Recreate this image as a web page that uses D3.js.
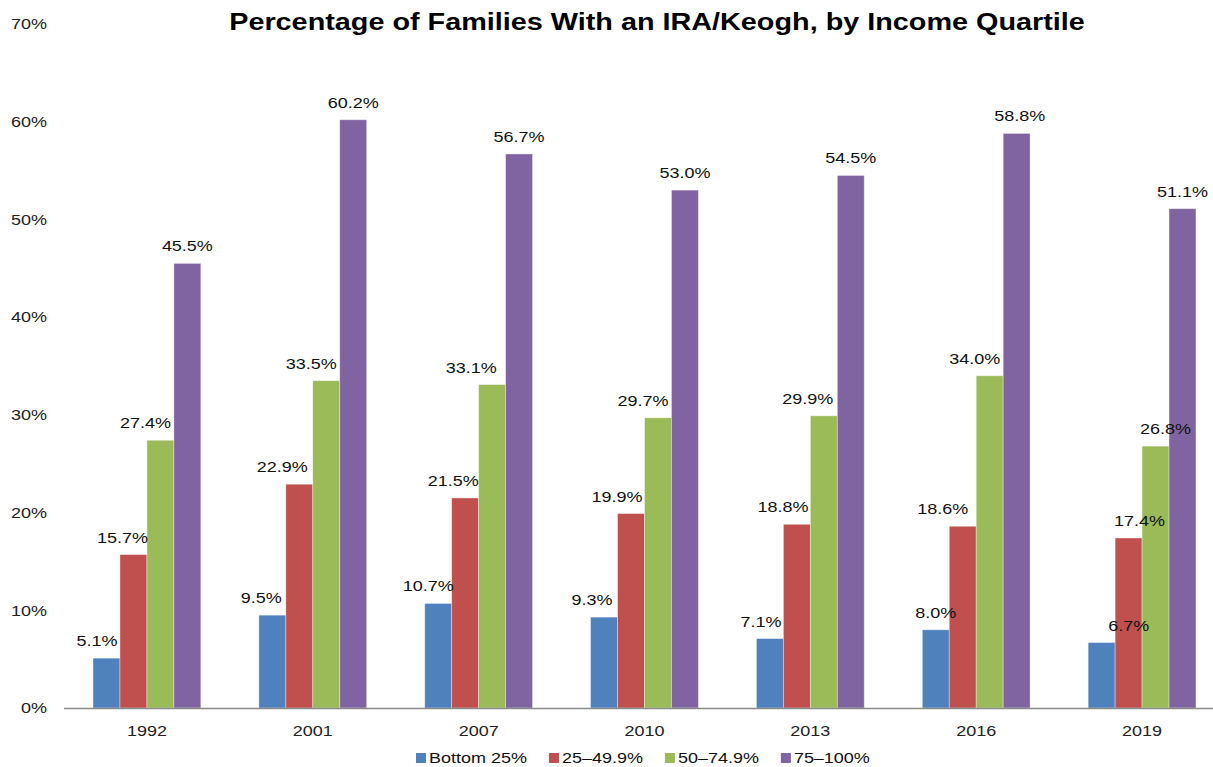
<!DOCTYPE html>
<html>
<head>
<meta charset="utf-8">
<script src="https://cdn.jsdelivr.net/npm/d3@7/dist/d3.min.js"></script>
<style>
  html, body { margin: 0; padding: 0; background: #fff; }
  svg { display: block; font-family: "Liberation Sans", Arial, sans-serif; }
</style>
</head>
<body>
<svg id="chart" width="1213" height="767"></svg>
<script>
// Survey years and the four income quartile series (percent of families)
const years = ["1992", "2001", "2007", "2010", "2013", "2016", "2019"];
const seriesNames = ["Bottom 25%", "25–49.9%", "50–74.9%", "75–100%"];
const bottom25 = [5.1, 9.5, 10.7, 9.3, 7.1, 8.0, 6.7];
const q25to49 = [15.7, 22.9, 21.5, 19.9, 18.8, 18.6, 17.4];
const q50to74 = [27.4, 33.5, 33.1, 29.7, 29.9, 34.0, 26.8];
const q75to100 = [45.5, 60.2, 56.7, 53.0, 54.5, 58.8, 51.1];
const yTicks = [0, 10, 20, 30, 40, 50, 60, 70];

// Horizontal nudges for value labels so neighbours do not collide (per year, per series)
const labelNudge = [
  [-9.5, -11, -15, 0],
  [-11, -17, -15, 0],
  [-10, -12, -21, 0],
  [-12, -14, -15, 0],
  [-9, -14, -16, 0],
  [0, -20, -15, 3],
  [27, 11, 10, 0]
];

const colors = ["#4F81BD", "#C0504D", "#9BBB59", "#8064A2"];
const seriesValues = [bottom25, q25to49, q50to74, q75to100];

// All text in this chart is set slightly wide
const STRETCH = 1.2;

const svg = d3.select("#chart");

const x0 = d3.scaleBand()
  .domain(years)
  .range([64, 1225])
  .paddingInner(0.35)
  .paddingOuter(0.175);

const x1 = d3.scaleBand()
  .domain(seriesNames)
  .range([0, x0.bandwidth()]);

const y = d3.scaleLinear().domain([0, 70]).range([708, 24]);

// Title
svg.append("text")
  .attr("transform", `translate(657,30) scale(${STRETCH},1)`)
  .attr("text-anchor", "middle")
  .attr("font-size", 24)
  .attr("font-weight", "bold")
  .attr("fill", "#000")
  .text("Percentage of Families With an IRA/Keogh, by Income Quartile");

// Y axis labels (no axis line, no gridlines)
const yAxis = d3.axisLeft(y).tickValues(yTicks).tickSize(0).tickPadding(0)
  .tickFormat(d => d + "%");
const yG = svg.append("g").attr("transform", "translate(47,0)").call(yAxis);
yG.select(".domain").remove();
yG.selectAll("text")
  .attr("font-size", 15).attr("fill", "#222")
  .attr("font-family", "Liberation Sans, Arial, sans-serif")
  .attr("transform", `scale(${STRETCH},1)`);

// Bars
const rows = years.map((yr, i) => ({
  year: yr,
  i: i,
  vals: seriesNames.map((s, k) => ({ series: s, k: k, i: i, value: seriesValues[k][i] }))
}));

const groups = svg.append("g").selectAll("g")
  .data(rows)
  .join("g")
  .attr("transform", d => `translate(${x0(d.year)},0)`);

groups.selectAll("rect")
  .data(d => d.vals)
  .join("rect")
  .attr("x", d => x1(d.series))
  .attr("y", d => y(d.value))
  .attr("width", x1.bandwidth())
  .attr("height", d => y(0) - y(d.value))
  .attr("fill", d => colors[d.k])
  .attr("stroke", "rgba(255,255,255,0.45)")
  .attr("stroke-width", 0.8);

// Value labels
groups.selectAll("text.val")
  .data(d => d.vals)
  .join("text")
  .attr("class", "val")
  .attr("transform", d => {
    const cx = x1(d.series) + x1.bandwidth() / 2 + labelNudge[d.i][d.k];
    const cy = y(d.value) - 12;
    return `translate(${cx},${cy}) scale(${STRETCH},1)`;
  })
  .attr("text-anchor", "middle")
  .attr("font-size", 15)
  .attr("fill", "#111")
  .text(d => d.value.toFixed(1) + "%");

// X axis
const xAxis = d3.axisBottom(x0).tickSize(0).tickPadding(0);
const xG = svg.append("g").attr("transform", `translate(0,${y(0)})`).call(xAxis);
xG.select(".domain").remove();
xG.selectAll("text")
  .attr("font-size", 15).attr("fill", "#222")
  .attr("dy", 0).attr("y", 28)
  .attr("font-family", "Liberation Sans, Arial, sans-serif")
  .attr("transform", `scale(${STRETCH},1)`);
svg.append("line")
  .attr("x1", 64).attr("x2", 1213)
  .attr("y1", y(0) + 0.5).attr("y2", y(0) + 0.5)
  .attr("stroke", "#8a8a8a").attr("stroke-width", 1.6);

// Legend
const legend = svg.append("g");
let lx = 416;
seriesNames.forEach((name, k) => {
  legend.append("rect")
    .attr("x", lx).attr("y", 753)
    .attr("width", 10).attr("height", 10)
    .attr("fill", colors[k]);
  const t = legend.append("text")
    .attr("transform", `translate(${lx + 13},763) scale(${STRETCH},1)`)
    .attr("font-size", 15).attr("fill", "#111")
    .text(name);
  lx += 13 + t.node().getComputedTextLength() * STRETCH + 22;
});
</script>
</body>
</html>
